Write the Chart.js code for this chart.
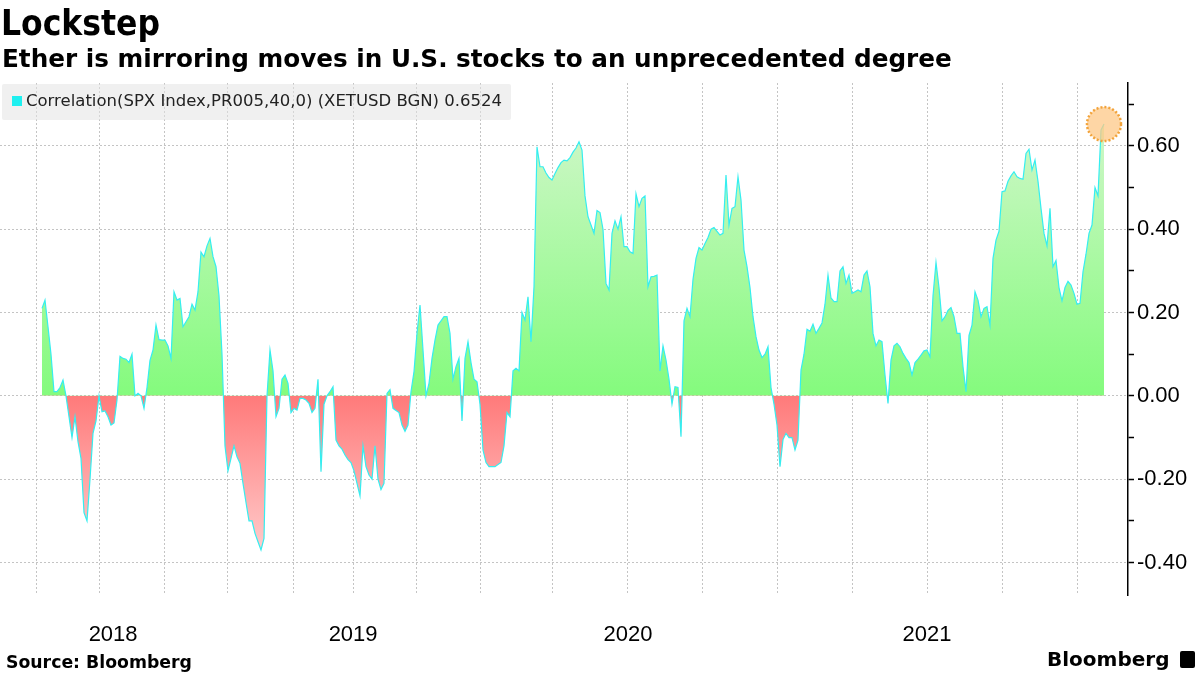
<!DOCTYPE html>
<html>
  <head>
    <meta charset="utf-8" />
    <title>Lockstep</title>
    <script src="https://cdn.jsdelivr.net/npm/chart.js"></script>
    <style>
      body {
        margin: 0;
        width: 1200px;
        height: 675px;
        position: relative;
        overflow: hidden;
        background: #fff;
        font-family: "DejaVu Sans", sans-serif;
        color: #000;
      }
      #wrap {
        position: absolute;
        left: 0;
        top: 0;
        width: 1200px;
        height: 675px;
      }
      .title {
        position: absolute;
        left: 1px;
        top: 6px;
        margin: 0;
        font-weight: bold;
        font-size: 35px;
        font-stretch: condensed;
        line-height: 35px;
        white-space: nowrap;
      }
      .subtitle {
        position: absolute;
        left: 2px;
        top: 47px;
        margin: 0;
        font-weight: bold;
        font-size: 24.7px;
        line-height: 24.7px;
        white-space: nowrap;
      }
      .legend {
        position: absolute;
        left: 2px;
        top: 84px;
        width: 509px;
        height: 36px;
        background: rgba(228, 228, 228, 0.55);
        border-radius: 2px;
      }
      .legend .swatch {
        position: absolute;
        left: 10px;
        top: 12px;
        width: 10px;
        height: 10px;
        background: #1ef0f0;
      }
      .legend .text {
        position: absolute;
        left: 24px;
        top: 8px;
        font-size: 16.5px;
        line-height: 18px;
        color: #222;
        white-space: nowrap;
      }
      .source {
        position: absolute;
        left: 6px;
        top: 653px;
        font-weight: bold;
        font-size: 17.3px;
        line-height: 18px;
        white-space: nowrap;
      }
      .brand {
        position: absolute;
        left: 1047px;
        top: 648px;
        font-weight: bold;
        font-size: 20px;
        line-height: 22px;
        white-space: nowrap;
      }
      .brand-icon {
        position: absolute;
        left: 1180px;
        top: 651px;
        width: 15px;
        height: 17px;
        background: #000;
        border-radius: 2px;
      }
    </style>
  </head>
  <body>
    <div id="wrap"><canvas id="corrChart"></canvas></div>
    <div class="title">Lockstep</div>
    <div class="subtitle">
      Ether is mirroring moves in U.S. stocks to an unprecedented degree
    </div>
    <div class="legend">
      <div class="swatch"></div>
      <div class="text">
        Correlation(SPX Index,PR005,40,0) (XETUSD BGN) 0.6524
      </div>
    </div>
    <div class="source">Source: Bloomberg</div>
    <div class="brand">Bloomberg</div>
    <div class="brand-icon"></div>

    <script>
      // 40-day correlation, one reading per step (Apr 2018 -> Jan 2022)
      const correlation = [
        0.21, 0.23, 0.166, 0.10, 0.01, 0.01, 0.02, 0.038, 0.0, -0.05,
        -0.10, -0.05, -0.11, -0.15, -0.28, -0.30, -0.20, -0.09, -0.06, 0.0,
        -0.038, -0.036, -0.05, -0.07, -0.065, -0.01, 0.095, 0.09, 0.088, 0.08,
        0.10, 0.0, 0.006, 0.0, -0.03, 0.02, 0.085, 0.11, 0.17, 0.135,
        0.134, 0.134, 0.12, 0.09, 0.25, 0.23, 0.234, 0.166, 0.178, 0.19,
        0.22, 0.206, 0.25, 0.345, 0.334, 0.36, 0.378, 0.334, 0.31, 0.24,
        0.10, -0.12, -0.18, -0.15, -0.12, -0.146, -0.162, -0.21, -0.256, -0.30,
        -0.30, -0.33, -0.35, -0.37, -0.342, 0.0, 0.11, 0.06, -0.05, -0.03,
        0.04, 0.05, 0.03, -0.04, -0.03, -0.034, -0.006, -0.006, -0.01, -0.018,
        -0.04, -0.03, 0.04, -0.182, -0.02, 0.0, 0.01, 0.022, -0.106, -0.12,
        -0.128, -0.142, -0.153, -0.16, -0.18, -0.21, -0.24, -0.12, -0.17, -0.19,
        -0.20, -0.12, -0.20, -0.225, -0.21, 0.006, 0.015, -0.03, -0.035, -0.04,
        -0.07, -0.085, -0.07, 0.01, 0.058, 0.15, 0.218, 0.11, 0.0, 0.03,
        0.09, 0.134, 0.17, 0.18, 0.19, 0.19, 0.15, 0.04, 0.07, 0.09,
        -0.06, 0.09, 0.13, 0.08, 0.04, 0.034, -0.02, -0.13, -0.16, -0.17,
        -0.17, -0.17, -0.165, -0.16, -0.12, -0.04, -0.05, 0.06, 0.066, 0.06,
        0.20, 0.182, 0.238, 0.13, 0.262, 0.598, 0.55, 0.55, 0.535, 0.524,
        0.518, 0.534, 0.548, 0.56, 0.566, 0.564, 0.572, 0.585, 0.595, 0.61,
        0.59, 0.48, 0.43, 0.41, 0.39, 0.445, 0.44, 0.40, 0.27, 0.254,
        0.39, 0.42, 0.40, 0.43, 0.358, 0.358, 0.346, 0.342, 0.485, 0.454,
        0.474, 0.48, 0.262, 0.286, 0.287, 0.29, 0.06, 0.12, 0.086, 0.04,
        -0.02, 0.022, 0.02, -0.098, 0.18, 0.21, 0.19, 0.28, 0.33, 0.356,
        0.35, 0.366, 0.38, 0.40, 0.404, 0.395, 0.386, 0.39, 0.53, 0.41,
        0.45, 0.454, 0.526, 0.47, 0.35, 0.31, 0.26, 0.19, 0.142, 0.11,
        0.092, 0.10, 0.118, 0.02, -0.02, -0.07, -0.17, -0.105, -0.09, -0.10,
        -0.10, -0.13, -0.106, 0.062, 0.10, 0.16, 0.155, 0.172, 0.15, 0.162,
        0.175, 0.22, 0.29, 0.235, 0.226, 0.226, 0.30, 0.31, 0.27, 0.29,
        0.246, 0.25, 0.254, 0.25, 0.29, 0.30, 0.262, 0.15, 0.12, 0.134,
        0.13, 0.05, -0.018, 0.086, 0.12, 0.126, 0.118, 0.102, 0.09, 0.08,
        0.05, 0.08, 0.088, 0.098, 0.108, 0.11, 0.094, 0.24, 0.32, 0.26,
        0.18, 0.19, 0.205, 0.212, 0.19, 0.15, 0.15, 0.07, 0.01, 0.145,
        0.17, 0.25, 0.23, 0.19, 0.21, 0.214, 0.17, 0.33, 0.374, 0.395,
        0.49, 0.492, 0.515, 0.528, 0.538, 0.526, 0.522, 0.52, 0.582, 0.592,
        0.542, 0.566, 0.515, 0.45, 0.39, 0.36, 0.45, 0.31, 0.325, 0.26,
        0.228, 0.26, 0.275, 0.266, 0.246, 0.22, 0.222, 0.298, 0.34, 0.39,
        0.41, 0.50, 0.48, 0.638, 0.6524,
      ];

      // quarter starts (Apr 2018 ... Jan 2022) as positions on the step axis
      const quarterStarts = [
        -2, 19, 40.7, 62, 83.7, 103.7, 124.7, 146.3, 170, 195, 220.3, 245.3,
        270, 295, 320, 345,
      ];
      const yearLabels = ["2018", "2019", "2020", "2021"];
      const yearPositions = [23.7, 103.7, 195.3, 295];
      const yTickValues = [
        -0.4, -0.3, -0.2, -0.1, 0, 0.1, 0.2, 0.3, 0.4, 0.5, 0.6, 0.7,
      ];

      const xMin = -14;
      const xMax = 362;
      const isMajor = (v) => Math.round(v * 10) % 2 === 0;

      const greenFill = (context) => {
        const chart = context.chart;
        const y = chart.scales.y;
        if (!y || y.top === undefined) return "#8dfa85";
        const g = chart.ctx.createLinearGradient(
          0, y.getPixelForValue(0.62), 0, y.getPixelForValue(0)
        );
        g.addColorStop(0, "#cbf7c4");
        g.addColorStop(1, "#84fb7d");
        return g;
      };
      const redFill = (context) => {
        const chart = context.chart;
        const y = chart.scales.y;
        if (!y || y.top === undefined) return "#ff8080";
        const g = chart.ctx.createLinearGradient(
          0, y.getPixelForValue(0), 0, y.getPixelForValue(-0.38)
        );
        g.addColorStop(0, "#ff7a7a");
        g.addColorStop(1, "#ffcccc");
        return g;
      };

      // dotted orange circle on the latest reading
      const lastPointMarker = {
        id: "lastPointMarker",
        afterDatasetsDraw(chart) {
          const meta = chart.getDatasetMeta(0);
          const pt = meta.data[meta.data.length - 1];
          if (!pt) return;
          const ctx = chart.ctx;
          ctx.save();
          ctx.beginPath();
          ctx.arc(pt.x, pt.y, 17, 0, Math.PI * 2);
          ctx.fillStyle = "rgba(253, 200, 135, 0.75)";
          ctx.fill();
          ctx.setLineDash([2, 2]);
          ctx.lineWidth = 2.5;
          ctx.strokeStyle = "#f2a33a";
          ctx.stroke();
          ctx.restore();
        },
      };

      const ctx = document.getElementById("corrChart").getContext("2d");
      new Chart(ctx, {
        type: "line",
        data: {
          datasets: [
            {
              label: "Correlation(SPX Index,PR005,40,0) (XETUSD BGN)",
              data: correlation.map((v, i) => ({ x: i, y: v })),
              borderColor: "#35eef0",
              borderWidth: 1.2,
              pointRadius: 0,
              tension: 0,
              fill: { target: "origin", above: greenFill, below: redFill },
            },
          ],
        },
        options: {
          responsive: true,
          maintainAspectRatio: false,
          animation: false,
          layout: { padding: { top: 83, left: 0, right: 0, bottom: 0 } },
          plugins: {
            legend: { display: false },
            tooltip: { enabled: false },
          },
          scales: {
            x: {
              type: "linear",
              min: xMin,
              max: xMax,
              position: "bottom",
              afterBuildTicks: (s) => {
                s.ticks = quarterStarts.map((v) => ({ value: v }));
              },
              afterFit: (s) => {
                s.height = 0;
              },
              ticks: { display: false, autoSkip: false },
              grid: { color: "#c4c4c4", lineWidth: 1, drawTicks: false },
              border: { display: false, dash: [2, 2] },
            },
            x2: {
              type: "linear",
              min: xMin,
              max: xMax,
              position: "bottom",
              afterBuildTicks: (s) => {
                s.ticks = yearPositions.map((v) => ({ value: v }));
              },
              afterFit: (s) => {
                s.height = 80;
              },
              ticks: {
                autoSkip: false,
                maxRotation: 0,
                padding: 27,
                color: "#000",
                font: { family: "Liberation Sans", size: 22 },
                callback: (v, i) => yearLabels[i],
              },
              grid: { display: false, drawTicks: false },
              border: { display: false },
            },
            y: {
              position: "right",
              min: -0.478,
              max: 0.751,
              afterBuildTicks: (s) => {
                s.ticks = yTickValues.map((v) => ({ value: v }));
              },
              afterFit: (s) => {
                s.width = 72;
              },
              ticks: {
                padding: 3,
                color: "#000",
                font: { family: "Liberation Sans", size: 22 },
                callback: (v) => (isMajor(v) ? v.toFixed(2) : ""),
              },
              grid: {
                color: (c) =>
                  c.tick && isMajor(c.tick.value) ? "#c4c4c4" : "rgba(0,0,0,0)",
                tickColor: "#000",
                tickLength: 6,
                tickWidth: 1.5,
              },
              border: { display: true, color: "#000", width: 1.5, dash: [2, 2] },
            },
          },
        },
        plugins: [lastPointMarker],
      });
    </script>
  </body>
</html>
